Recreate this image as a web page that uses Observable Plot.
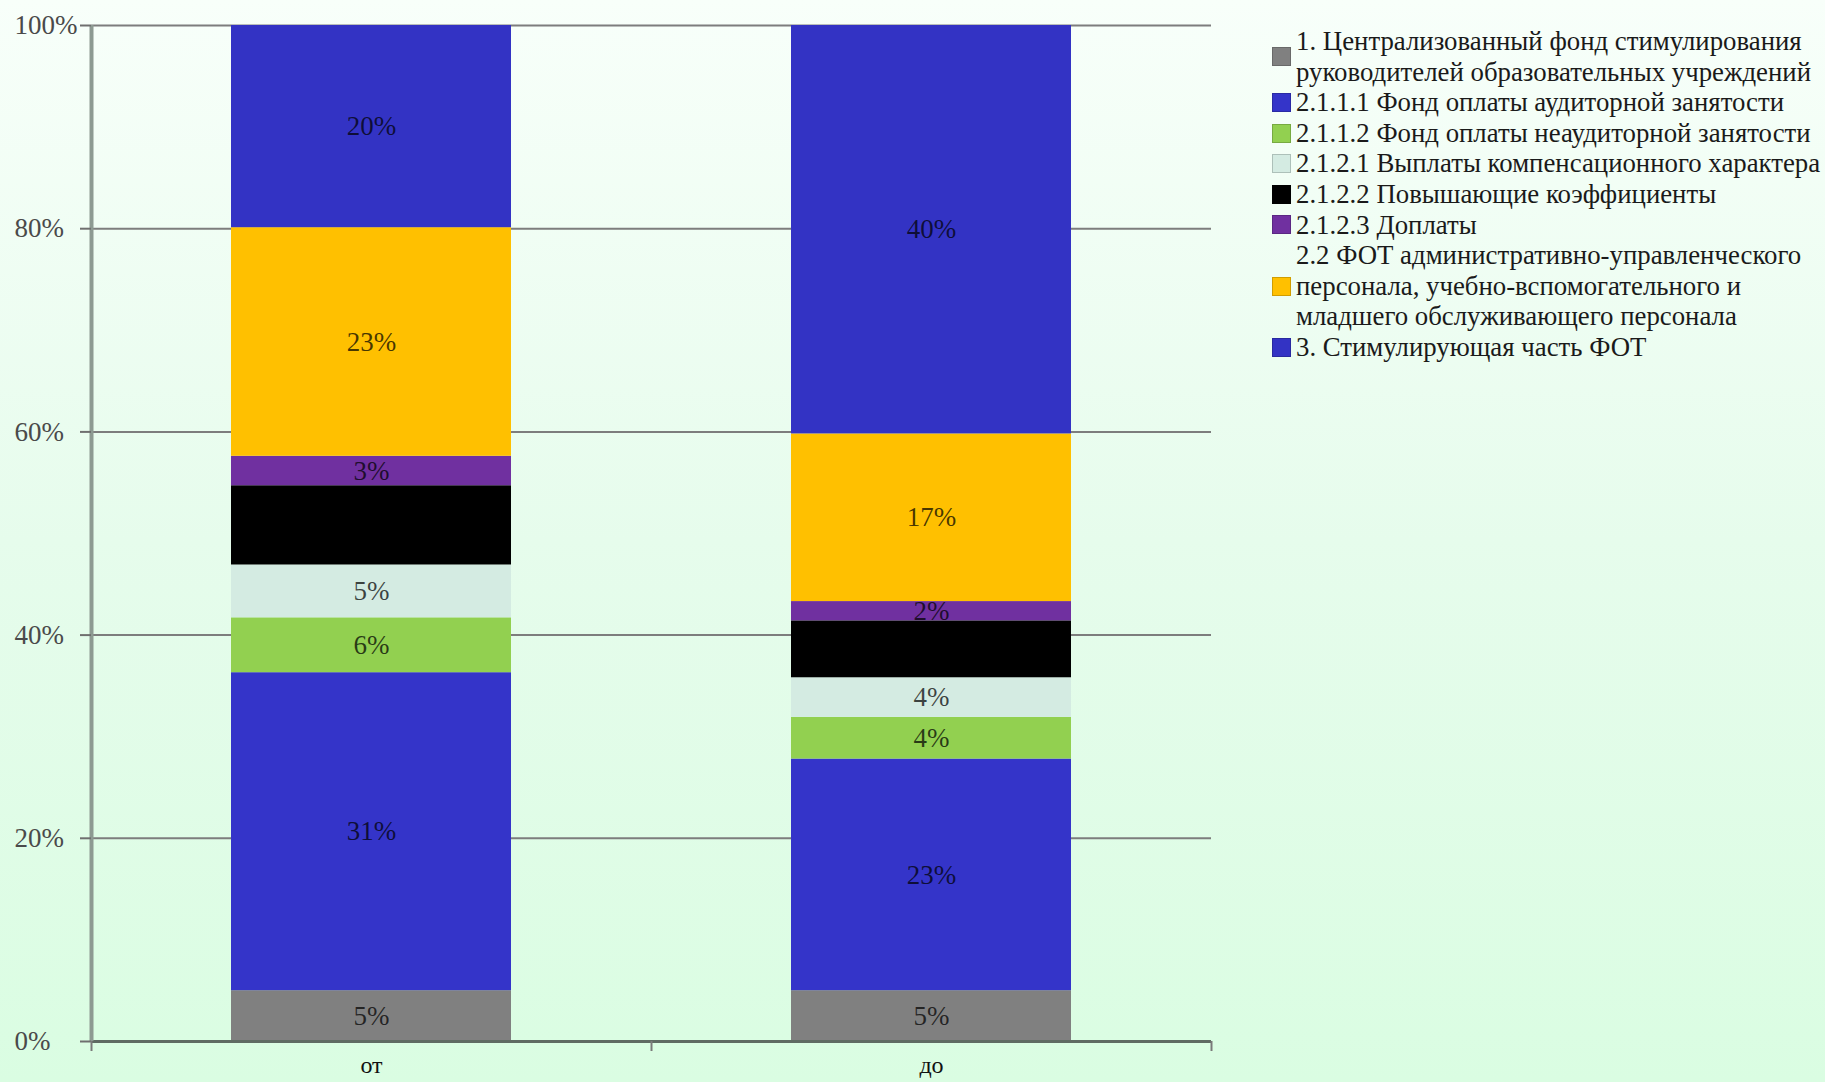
<!DOCTYPE html>
<html>
<head>
<meta charset="utf-8">
<script src="https://cdn.jsdelivr.net/npm/d3@7"></script>
<script src="https://cdn.jsdelivr.net/npm/@observablehq/plot@0.6"></script>
<style>
  html, body { margin: 0; padding: 0; }
  body {
    width: 1825px; height: 1082px; overflow: hidden;
    background: linear-gradient(to bottom, #f8fffa 0%, #e6fcec 50%, #dafde2 100%);
    font-family: "Liberation Serif", "DejaVu Serif", serif;
  }
  #wrap { position: relative; width: 1825px; height: 1082px; }
  #legend {
    position: absolute; left: 1272px; top: 26px;
    font-size: 26.8px; line-height: 30.6px; color: #1a1a1a;
  }
  .item { display: flex; align-items: center; }
  .sw { width: 19px; height: 19px; margin-right: 5px; flex: none; box-sizing: border-box; border: 1px solid rgba(0,0,0,0.18); }
  .lbl { white-space: pre; }
</style>
</head>
<body>
<div id="wrap">
  <div id="chart"></div>
  <div id="legend"></div>
</div>
<script>
const categories = ["от", "до"];
const series = [
  "1. Централизованный фонд стимулирования\nруководителей образовательных учреждений",
  "2.1.1.1 Фонд оплаты аудиторной занятости",
  "2.1.1.2 Фонд оплаты неаудиторной занятости",
  "2.1.2.1 Выплаты компенсационного характера",
  "2.1.2.2 Повышающие коэффициенты",
  "2.1.2.3 Доплаты",
  "2.2 ФОТ административно-управленческого\nперсонала, учебно-вспомогательного и\nмладшего обслуживающего персонала",
  "3. Стимулирующая часть ФОТ"
];
const colors = ["#808080", "#3434c9", "#92d050", "#d4ebe2", "#000000", "#7030a0", "#ffc000", "#3333c4"];
const valuesOt = [5, 31.3, 5.4, 5.2, 7.8, 2.9, 22.5, 19.9];
const valuesDo = [5, 22.8, 4.1, 3.9, 5.6, 1.9, 16.5, 40.2];
const labelsOt = ["5%", "31%", "6%", "5%", "8%", "3%", "23%", "20%"];
const labelsDo = ["5%", "23%", "4%", "4%", "6%", "2%", "17%", "40%"];
const yTicks = [0, 20, 40, 60, 80, 100];

const segments = [];
[valuesOt, valuesDo].forEach((vals, ci) => {
  const labs = ci === 0 ? labelsOt : labelsDo;
  let acc = 0;
  vals.forEach((v, si) => {
    segments.push({
      cat: ci, series: series[si],
      y1: acc, y2: acc + v, label: labs[si]
    });
    acc += v;
  });
});

const chart = Plot.plot({
  width: 1825, height: 1082,
  marginLeft: 91, marginRight: 614, marginTop: 25, marginBottom: 41,
  style: { background: "transparent", fontFamily: "Liberation Serif, DejaVu Serif, serif" },
  x: { domain: [0, 2], axis: null },
  y: { domain: [0, 100], axis: null },
  color: { domain: series, range: colors },
  marks: [
    Plot.ruleY(yTicks, { stroke: "#7d7d7d", strokeWidth: 2 }),
    Plot.rectY(segments, {
      x1: d => d.cat + 0.25, x2: d => d.cat + 0.75,
      y1: "y1", y2: "y2", fill: "series"
    }),
    Plot.text(segments, {
      x: d => d.cat + 0.5, y: d => (d.y1 + d.y2) / 2,
      text: "label", fill: "#000", fillOpacity: 0.72, fontSize: 27
    }),
    Plot.ruleY([0], { stroke: "#5f6b63", strokeWidth: 3 }),
    Plot.ruleX([0], { stroke: "#8d9a92", strokeWidth: 4 }),
    Plot.axisY({
      ticks: yTicks, tickFormat: d => d + "%", tickSize: 11, tickPadding: 66,
      textAnchor: "start", stroke: "#6f6f6f", strokeWidth: 2,
      fontSize: 27, fill: "#4a4a4a"
    }),
    Plot.axisX({
      ticks: [0, 1, 2], tickFormat: () => "", tickSize: 10,
      stroke: "#7a7a7a", strokeWidth: 2
    }),
    Plot.axisX({
      ticks: [0.5, 1.5], tickSize: 0, tickPadding: 14,
      tickFormat: d => categories[Math.floor(d)], fontSize: 24, fill: "#111"
    })
  ]
});
document.getElementById("chart").appendChild(chart);

const legend = document.getElementById("legend");
series.forEach((s, i) => {
  const item = document.createElement("div");
  item.className = "item";
  const sw = document.createElement("div");
  sw.className = "sw";
  sw.style.background = colors[i];
  const lb = document.createElement("div");
  lb.className = "lbl";
  lb.textContent = s;
  item.appendChild(sw);
  item.appendChild(lb);
  legend.appendChild(item);
});
</script>
</body>
</html>
